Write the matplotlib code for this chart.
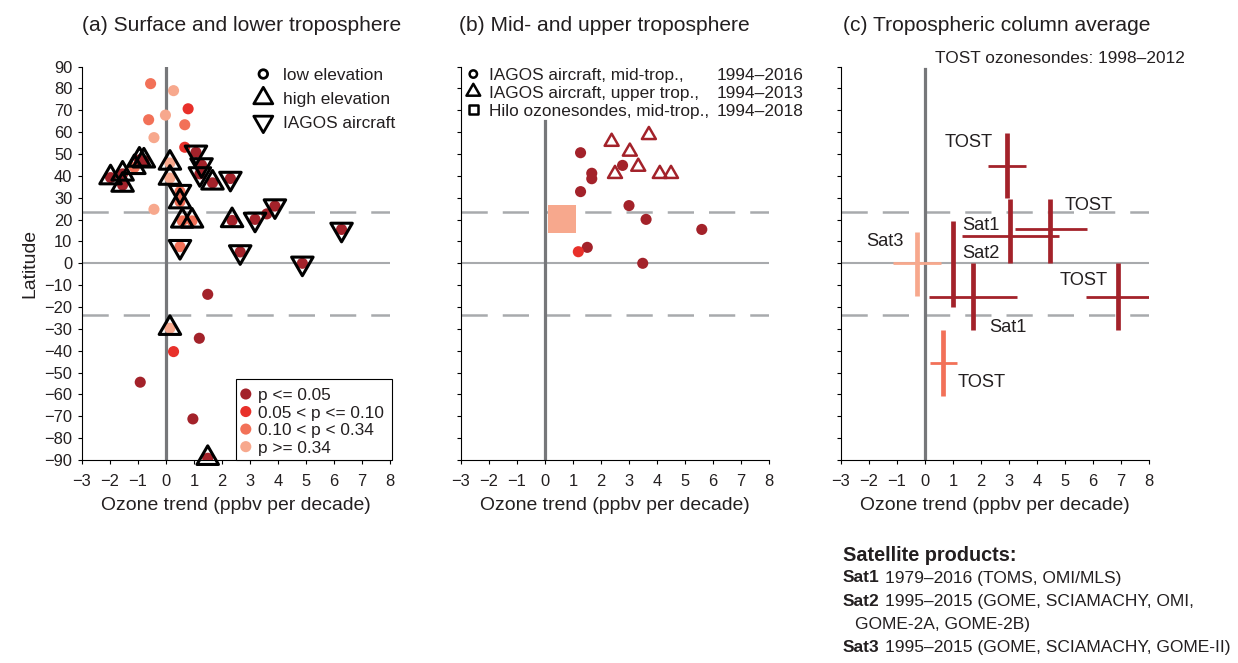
import matplotlib
matplotlib.use("Agg")
import matplotlib.pyplot as plt
from matplotlib import font_manager
from matplotlib.path import Path
from matplotlib.patches import Rectangle

W, H = 1238, 663
_names = {f.name for f in font_manager.fontManager.ttflist}
NARROW = "Liberation Sans Narrow" in _names
FAM = "Liberation Sans Narrow" if NARROW else "Liberation Sans"
K = 1.0 if NARROW else 0.82          # regular face is wider -> smaller size
plt.rcParams["font.family"] = [FAM, "DejaVu Sans"]

P_COLORS = ["#A3222A", "#E8302A", "#F27158", "#F7A88D"]
P_LABELS = ["p <= 0.05", "0.05 < p <= 0.10", "0.10 < p < 0.34", "p >= 0.34"]

# (a) surface and lower troposphere  (x = trend, y = latitude, p = p-value class)
A_LOW_X = [-0.55, 0.27, 0.79, -0.62, -0.02, 0.67, -0.43, 0.67, -0.43, 3.6, 1.49, 1.19, 0.27, -0.92, 0.96]
A_LOW_Y = [82.2, 79.0, 70.7, 65.7, 67.8, 63.4, 57.5, 53.1, 24.7, 22.6, -14.2, -34.3, -40.4, -54.4, -71.2]
A_LOW_P = [2, 3, 1, 2, 3, 2, 3, 1, 3, 0, 0, 0, 1, 0, 0]

A_HIGH_X = [-1.98, -1.55, -1.55, -1.13, -0.95, -0.79, 0.14, 0.14, 0.5, 0.58, 0.93, 1.66, 2.36, 0.14, 1.49]
A_HIGH_Y = [39.2, 40.9, 35.8, 43.9, 47.3, 46.9, 45.9, 39.0, 28.2, 19.4, 19.4, 36.8, 19.6, -29.7, -89.2]
A_HIGH_P = [0, 0, 0, 2, 0, 0, 3, 3, 2, 2, 2, 0, 0, 3, 0]

A_IAG_X = [1.07, 1.27, 1.21, 0.5, 2.3, 3.18, 3.89, 6.27, 0.5, 2.65, 4.87]
A_IAG_Y = [50.8, 45.0, 40.9, 32.8, 38.8, 20.1, 26.2, 15.5, 7.6, 5.2, 0.0]
A_IAG_P = [0, 0, 0, 2, 0, 0, 0, 0, 2, 0, 0]

# (b) mid- and upper troposphere
B_MID_X = [1.27, 1.67, 1.67, 1.27, 2.77, 3.0, 3.61, 5.6, 1.51, 3.49, 1.19]
B_MID_Y = [50.6, 41.2, 38.7, 32.8, 44.8, 26.4, 20.1, 15.5, 7.3, 0.0, 5.3]
B_MID_P = [0, 0, 0, 0, 0, 0, 0, 0, 0, 0, 1]
B_UP_X = [2.38, 3.71, 3.03, 3.33, 2.5, 4.1, 4.5]
B_UP_Y = [55.6, 58.7, 51.1, 44.2, 40.9, 40.9, 40.9]
B_HILO_X = [0.62]
B_HILO_Y = [20.2]
B_LEG_TEXT = ["IAGOS aircraft, mid-trop.,", "IAGOS aircraft, upper trop.,", "Hilo ozonesondes, mid-trop.,"]
B_LEG_YEARS = ["1994\u20132016", "1994\u20132013", "1994\u20132018"]

# (c) tropospheric column: crosses (centre, x range, latitude band)
C_X = [2.94, 4.46, 3.05, 1.01, 1.72, 6.90, -0.28, 0.65]
C_Y = [44.5, 15.5, 12.6, 0.0, -15.3, -15.3, 0.0, -45.5]
C_XLO = [2.26, 3.21, 1.31, 1.01, 0.15, 5.75, -1.13, 0.18]
C_XHI = [3.61, 5.77, 4.77, 1.01, 3.30, 8.04, 0.56, 1.13]
C_YLO = [29.7, 0.0, 0.0, -19.8, -30.5, -30.5, -14.9, -60.6]
C_YHI = [59.4, 29.3, 29.3, 19.3, 0.0, 0.0, 14.5, -30.5]
C_P = [0, 0, 0, 0, 0, 0, 3, 2]
C_LAB = ["TOST", "TOST", "Sat1", "Sat2", "Sat3", "TOST", "Sat1", "TOST"]
C_LAB_X = [1.55, 5.83, 2.0, 2.0, -1.43, 5.65, 2.95, 2.02]
C_LAB_Y = [56.4, 27.4, 18.4, 5.5, 10.7, -6.9, -28.6, -53.4]

FOOT_BOLD = ["Sat1", "Sat2", "", "Sat3"]
FOOT_TEXT = ["1979\u20132016 (TOMS, OMI/MLS)", "1995\u20132015 (GOME, SCIAMACHY, OMI,",
             "GOME-2A, GOME-2B)", "1995\u20132015 (GOME, SCIAMACHY, GOME-II)"]

TRI_UP = Path([(0, 1.155), (-1, -0.577), (1, -0.577), (0, 0)],
              [Path.MOVETO, Path.LINETO, Path.LINETO, Path.CLOSEPOLY])
TRI_DN = Path([(0, -1.155), (-1, 0.577), (1, 0.577), (0, 0)],
              [Path.MOVETO, Path.LINETO, Path.LINETO, Path.CLOSEPOLY])
DARK_GREY, LIGHT_GREY = "#76777A", "#A8AAAD"
TEXT = "#231F20"

fig = plt.figure(figsize=(W / 100, H / 100), dpi=100)


def px_axes(left, top, right, bottom):
    return fig.add_axes([left / W, 1 - bottom / H, (right - left) / W, (bottom - top) / H])


def ftext(px, py, s, **kw):
    return fig.text(px / W, 1 - py / H, s, **kw)


def style(ax, ylabels):
    ax.set_xlim(-3, 8); ax.set_ylim(-90, 90)
    ax.set_xticks(range(-3, 9)); ax.set_yticks(range(-90, 91, 10))
    for s in ("top", "right"):
        ax.spines[s].set_visible(False)
    for s in ("left", "bottom"):
        ax.spines[s].set_linewidth(0.8)
    ax.tick_params(direction="out", length=3, width=0.8, labelsize=14.5 * K, labelcolor=TEXT)
    ax.tick_params(axis="x", pad=7)
    ax.tick_params(axis="y", pad=4)
    if not ylabels:
        ax.set_yticklabels([])
    ax.set_xlabel("Ozone trend (ppbv per decade)", fontsize=17 * K, labelpad=6, color=TEXT)
    ax.axhline(0, color=LIGHT_GREY, lw=1.5, zorder=1)
    for lat in (23.5, -23.5):
        ax.axhline(lat, color=LIGHT_GREY, lw=1.8, dashes=(10.5, 6), zorder=1)


axa = px_axes(82, 66.6, 390, 460)
axb = px_axes(461, 66.6, 769, 460)
axc = px_axes(841, 66.6, 1149, 460)
for ax, yl in ((axa, True), (axb, False), (axc, False)):
    style(ax, yl)
axa.set_ylabel("Latitude", fontsize=17 * K, labelpad=4, color=TEXT)
axa.axvline(0, color=DARK_GREY, lw=2.3, zorder=2)
axb.axvline(0, ymax=(65 + 90) / 180, color=DARK_GREY, lw=2.3, zorder=2)
axc.axvline(0, ymax=(89 + 90) / 180, color=DARK_GREY, lw=2.3, zorder=2)

# ---- panel (a)
for xs, ys, ps in ((A_LOW_X, A_LOW_Y, A_LOW_P), (A_HIGH_X, A_HIGH_Y, A_HIGH_P), (A_IAG_X, A_IAG_Y, A_IAG_P)):
    axa.scatter(xs, ys, s=64, c=[P_COLORS[p] for p in ps], edgecolors="none", zorder=4)
axa.scatter(A_HIGH_X, A_HIGH_Y, s=320, marker=TRI_UP, facecolors="none", edgecolors="k", linewidths=2.2, zorder=5, clip_on=False)
axa.scatter(A_IAG_X, A_IAG_Y, s=320, marker=TRI_DN, facecolors="none", edgecolors="k", linewidths=2.2, zorder=5)

# shape legend, upper right
for mk, s, lat, txt in (("o", 38, 86.6, "low elevation"), (TRI_UP, 250, 75.5, "high elevation"),
                        (TRI_DN, 250, 64.8, "IAGOS aircraft")):
    axa.scatter([3.475], [lat], s=s, marker=mk, facecolors="none", edgecolors="k", linewidths=2.0, zorder=6, clip_on=False)
    axa.text(4.19, lat, txt, fontsize=15.2 * K, va="center_baseline", ha="left", color=TEXT)

# p-value legend, lower right
axa.add_patch(Rectangle((2.49, -90), 8.06 - 2.49, -53.1 + 90, facecolor="white", edgecolor="k",
                        lw=0.8, zorder=6, clip_on=False))
for i, lab in enumerate(P_LABELS):
    lat = -59.8 - 8.03 * i
    axa.scatter([2.85], [lat], s=64, c=P_COLORS[i], edgecolors="none", zorder=7)
    axa.text(3.27, lat, lab, fontsize=15.2 * K, va="center_baseline", ha="left", zorder=7, color=TEXT)

# ---- panel (b)
axb.scatter(B_HILO_X, B_HILO_Y, s=408, marker="s", c=P_COLORS[3], edgecolors="none", zorder=3)
axb.scatter(B_MID_X, B_MID_Y, s=64, c=[P_COLORS[p] for p in B_MID_P], edgecolors="none", zorder=4)
axb.scatter(B_UP_X, B_UP_Y, s=135, marker=TRI_UP, facecolors="none", edgecolors=P_COLORS[0], linewidths=1.8, zorder=5)
for mk, s, lat, txt, yr in zip(("o", TRI_UP, "s"), (28, 130, 40), (86.6, 78.5, 70.2), B_LEG_TEXT, B_LEG_YEARS):
    axb.scatter([-2.56], [lat], s=s, marker=mk, facecolors="none", edgecolors="k", linewidths=1.8, zorder=6, clip_on=False)
    axb.text(-1.99, lat, txt, fontsize=15.2 * K, va="center_baseline", ha="left", color=TEXT)
    axb.text(6.13, lat, yr, fontsize=15.2 * K, va="center_baseline", ha="left", color=TEXT)

# ---- panel (c)
for i in range(len(C_X)):
    col = P_COLORS[C_P[i]]
    axc.vlines(C_X[i], C_YLO[i], C_YHI[i], color=col, lw=3.4, zorder=4)
    if C_XHI[i] > C_XLO[i]:
        axc.hlines(C_Y[i], C_XLO[i], C_XHI[i], color=col, lw=2.0, zorder=4)
for lab, x, y in zip(C_LAB, C_LAB_X, C_LAB_Y):
    axc.text(x, y, lab, fontsize=16 * K, ha="center", va="center_baseline", color=TEXT, zorder=5)

# ---- titles and notes
ftext(82, 31, "(a) Surface and lower troposphere", fontsize=18.4 * K, color=TEXT, va="baseline")
ftext(459, 31, "(b) Mid- and upper troposphere", fontsize=18.4 * K, color=TEXT, va="baseline")
ftext(843, 31, "(c) Tropospheric column average", fontsize=18.4 * K, color=TEXT, va="baseline")
ftext(935, 63, "TOST ozonesondes: 1998\u20132012", fontsize=15.2 * K, color=TEXT, va="baseline")

ftext(843, 561, "Satellite products:", fontsize=17.5 * K, fontweight="bold", color=TEXT, va="baseline")
fig.canvas.draw()
rend = fig.canvas.get_renderer()
for i, (b, t) in enumerate(zip(FOOT_BOLD, FOOT_TEXT)):
    yb = 582.5 + 23.3 * i
    if b:
        bt = ftext(843, yb, b, fontsize=15.3 * K, fontweight="bold", color=TEXT, va="baseline")
        x1 = bt.get_window_extent(rend).x1
        ftext(x1 + 5, yb, t, fontsize=15.3 * K, color=TEXT, va="baseline")
    else:
        ftext(855, yb, t, fontsize=15.3 * K, color=TEXT, va="baseline")

fig.savefig("out.png", dpi=100)
